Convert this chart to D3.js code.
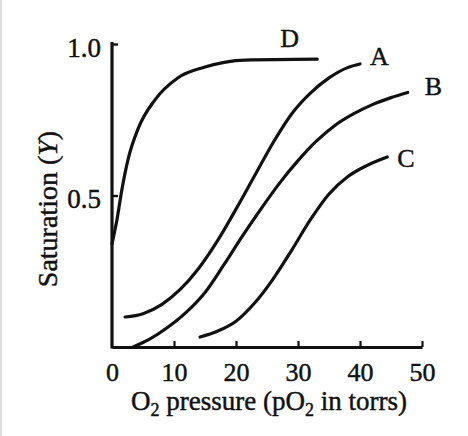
<!DOCTYPE html>
<html>
<head>
<meta charset="utf-8">
<script src="https://cdn.jsdelivr.net/npm/d3@7"></script>
<style>
  html, body { margin: 0; padding: 0; background: #fff; }
  svg { display: block; }
  text { font-family: "Liberation Serif", "Times New Roman", serif; fill: #111; stroke: #111; stroke-width: 0.45px; }
</style>
</head>
<body>
<svg id="chart" width="468" height="436"></svg>
<script>
// ---- data (pO2 in torrs, saturation Y) ----
const seriesNames = ["D", "A", "B", "C"];
const curveD = [[0,0.34],[0.8,0.42],[1.6,0.52],[2.6,0.62],[4.2,0.72],[6.9,0.815],[10.6,0.888],[15,0.924],[21.5,0.947],[33.1,0.95]];
const curveA = [[2.1,0.099],[5,0.11],[8,0.14],[11,0.19],[14,0.26],[17,0.35],[20,0.455],[23,0.565],[26,0.675],[29,0.77],[32,0.838],[35,0.888],[38,0.922],[40,0.934]];
const curveB = [[3.4,0.0],[6,0.025],[9,0.065],[12,0.115],[15,0.18],[18,0.27],[21,0.365],[24,0.455],[27,0.54],[30,0.615],[33,0.68],[36,0.732],[39,0.77],[42,0.8],[45,0.823],[47.7,0.84]];
const curveC = [[14.2,0.033],[17,0.052],[20,0.085],[23,0.145],[26,0.225],[29,0.32],[32,0.42],[35,0.505],[38,0.562],[41,0.598],[44.4,0.627]];
const xTicks = [0, 10, 20, 30, 40, 50];
const yTicks = [0.5, 1.0];
const yTickLabels = ["0.5", "1.0"];

const svg = d3.select("#chart");
// faint frame line at left edge
svg.append("rect").attr("x", 0).attr("y", 0).attr("width", 2).attr("height", 436).attr("fill", "#dcdcdc");

const x = d3.scaleLinear().domain([0, 50]).range([112, 422]);
const y = d3.scaleLinear().domain([0, 1]).range([347, 44]);

// x axis
const xAxis = svg.append("g")
  .attr("transform", `translate(0,${y(0)})`)
  .call(d3.axisBottom(x).tickValues(xTicks).tickSizeInner(-6).tickSizeOuter(0).tickFormat(d3.format("d")));
xAxis.select(".domain").attr("stroke", "#111").attr("stroke-width", 3.2);
xAxis.selectAll(".tick line").attr("stroke", "#111").attr("stroke-width", 2.2);
xAxis.selectAll(".tick").filter(d => d === 0).select("line").remove();
xAxis.selectAll(".tick text")
  .attr("y", 34).attr("dy", 0)
  .style("font-size", "26px").style("font-family", "Liberation Serif, serif")
  .attr("fill", "#111").attr("stroke", "#111").attr("stroke-width", 0.45);

// y axis
const yAxis = svg.append("g")
  .attr("transform", `translate(${x(0)},0)`)
  .call(d3.axisLeft(y).tickValues(yTicks).tickSizeInner(-6).tickSizeOuter(0)
    .tickFormat((d, i) => yTickLabels[i]));
yAxis.select(".domain").attr("stroke", "#111").attr("stroke-width", 3.2)
  .attr("d", `M0,${y(0) + 1.5}V${y(1) - 2}`);
yAxis.selectAll(".tick line").attr("stroke", "#111").attr("stroke-width", 2.4);
yAxis.selectAll(".tick text")
  .attr("x", -11).attr("dy", "0.45em")
  .style("font-size", "27px").style("font-family", "Liberation Serif, serif")
  .attr("fill", "#111").attr("stroke", "#111").attr("stroke-width", 0.45);

// curves
const line = d3.line().x(d => x(d[0])).y(d => y(d[1])).curve(d3.curveMonotoneX);
const curves = [curveD, curveA, curveB, curveC];
curves.forEach(c => {
  svg.append("path").datum(c)
    .attr("d", line)
    .attr("fill", "none")
    .attr("stroke", "#111")
    .attr("stroke-width", 3.2)
    .attr("stroke-linecap", "round");
});

// curve labels, placed relative to the last point of each curve
const labelOffsets = { D: [-37, -12], A: [10, 1], B: [17, 3], C: [10, 10] };
curves.forEach((c, i) => {
  const name = seriesNames[i];
  const last = c[c.length - 1];
  svg.append("text")
    .attr("x", x(last[0]) + labelOffsets[name][0])
    .attr("y", y(last[1]) + labelOffsets[name][1])
    .style("font-size", "26px")
    .text(name);
});

// x axis title
const xt = svg.append("text")
  .attr("x", (x(0) + x(50)) / 2 + 2).attr("y", 410)
  .attr("text-anchor", "middle")
  .style("font-size", "27px");
xt.append("tspan").text("O");
xt.append("tspan").attr("dy", 6).style("font-size", "18px").text("2");
xt.append("tspan").attr("dy", -6).text(" pressure (pO");
xt.append("tspan").attr("dy", 6).style("font-size", "18px").text("2");
xt.append("tspan").attr("dy", -6).text(" in torrs)");

// y axis title
const yt = svg.append("text")
  .attr("transform", "translate(57,209) rotate(-90)")
  .attr("text-anchor", "middle")
  .style("font-size", "28px");
yt.append("tspan").text("Saturation (");
yt.append("tspan").style("font-style", "italic").text("Y");
yt.append("tspan").text(")");
</script>
</body>
</html>
